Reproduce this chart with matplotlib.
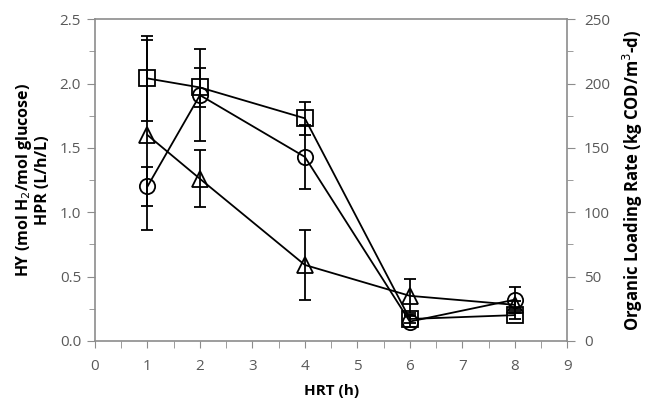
import numpy as np
import matplotlib
matplotlib.use("Agg")
import matplotlib.pyplot as plt
from matplotlib.ticker import MultipleLocator

plt.rcParams['font.family'] = ['Open Sans', 'DejaVu Sans']

hrt = [1, 2, 4, 6, 8]

# squares
sq = [2.04, 1.97, 1.73, 0.17, 0.20]
sq_err = [0.33, 0.15, 0.13, 0.03, 0.03]
# circles
ci = [1.20, 1.91, 1.43, 0.15, 0.32]
ci_err = [0.15, 0.36, 0.25, 0.04, 0.10]
# triangles
tr = [1.60, 1.26, 0.59, 0.35, 0.28]
tr_err = [0.74, 0.22, 0.27, 0.13, 0.03]

gray = "#8c8c8c"
txt = "#595959"

fig = plt.figure(figsize=(6.55, 4.01), dpi=100)
ax = fig.add_axes([0.145, 0.150, 0.721, 0.802])

for y, e, m, ms in [(tr, tr_err, "^", 11), (ci, ci_err, "o", 11), (sq, sq_err, "s", 11)]:
    ax.errorbar(hrt, y, yerr=e, color="black", marker=m, markersize=ms,
                markerfacecolor="none", markeredgecolor="black", markeredgewidth=1.3,
                linewidth=1.3, elinewidth=1.3, capsize=4, capthick=1.3)

ax.set_xlim(0, 9)
ax.set_ylim(0, 2.5)
ax.xaxis.set_major_locator(MultipleLocator(1))
ax.xaxis.set_minor_locator(MultipleLocator(0.5))
ax.yaxis.set_major_locator(MultipleLocator(0.5))
ax.yaxis.set_minor_locator(MultipleLocator(0.25))
ax.yaxis.set_major_formatter(matplotlib.ticker.FormatStrFormatter("%.1f"))

for s in ax.spines.values():
    s.set_color(gray)
    s.set_linewidth(1.2)
ax.spines["right"].set_visible(False)

ax.tick_params(which="both", direction="out", colors=gray, labelcolor=txt, labelsize=11)
ax.tick_params(axis="y", which="major", length=6, pad=4)
ax.tick_params(axis="y", which="minor", length=4)
ax.tick_params(axis="x", which="both", length=5, pad=8)

ax.set_xlabel("HRT (h)", fontsize=11, fontweight="bold", color="black", labelpad=7)
ax.set_ylabel("HY (mol H$_2$/mol glucose)\nHPR (L/h/L)", fontsize=11.5, fontweight="bold",
              color="black", labelpad=6, linespacing=1.1)

ax2 = ax.twinx()
ax2.set_ylim(0, 250)
ax2.yaxis.set_major_locator(MultipleLocator(50))
ax2.yaxis.set_minor_locator(MultipleLocator(25))
for s in ax2.spines.values():
    s.set_visible(False)
ax2.spines["right"].set_visible(True)
ax2.spines["right"].set_color(gray)
ax2.spines["right"].set_linewidth(1.2)
ax2.tick_params(which="both", direction="out", colors=gray, labelcolor=txt, labelsize=11)
ax2.tick_params(which="major", length=6, pad=6)
ax2.tick_params(which="minor", length=4)
ax2.set_ylabel("Organic Loading Rate (kg COD/m$^3$-d)", fontsize=12, fontweight="bold",
               color="black", labelpad=8)

fig.savefig("out.png", dpi=100, facecolor="white")
